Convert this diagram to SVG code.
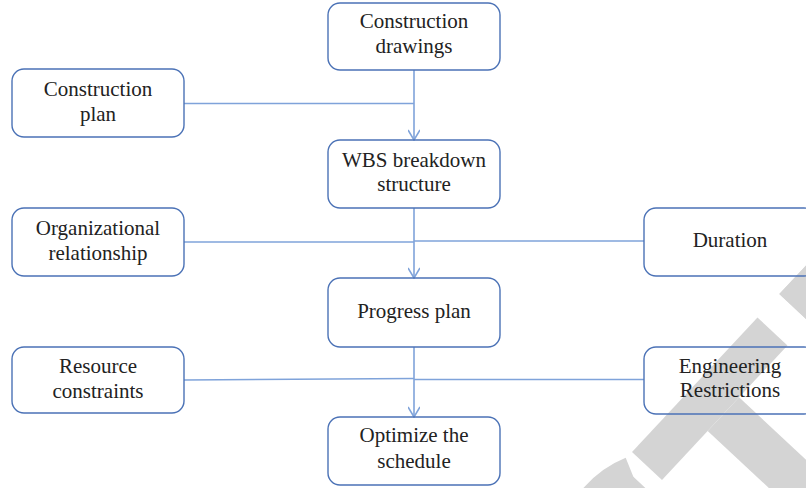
<svg xmlns="http://www.w3.org/2000/svg" width="806" height="488" viewBox="0 0 806 488">
  <style>
    .box { fill: none; stroke: #4b72b6; stroke-width: 1.4; }
    .lbl { font-family: "Liberation Serif", "Times New Roman", serif; font-size: 21px; fill: #222; text-anchor: middle; }
    .link { fill: none; stroke: #7fa3da; stroke-width: 1.6; }
    .wm { fill: #d4d4d4; }
  </style>
  <defs>
    <marker id="arrow" viewBox="0 0 12 12" refX="11" refY="6" markerWidth="12" markerHeight="12" markerUnits="userSpaceOnUse" orient="auto">
      <path d="M1,0 L11,6 L1,12" fill="none" stroke="#7fa3da" stroke-width="1.6"/>
    </marker>
  </defs>

  <rect width="806" height="488" fill="#ffffff"/>

  <!-- grey diagonal watermark bands in the lower right corner -->
  <g id="watermark" transform="translate(632 452) rotate(-47)">
    <path class="wm" d="M -17.2 17.9 A 89.5 89.5 0 1 0 -17.2 180.1" fill="none" stroke="#d4d4d4" stroke-width="41"/>
    <rect class="wm" x="0" y="0" width="184" height="41"/>
    <rect class="wm" x="67" y="41" width="46" height="220"/>
    <rect class="wm" x="216" y="0" width="46" height="220"/>
    <rect class="wm" x="216" y="0" width="150" height="41"/>
  </g>

  <g id="connectors">
    <line class="link" x1="414" y1="70" x2="414" y2="140" marker-end="url(#arrow)"/>
    <line class="link" x1="184" y1="103.5" x2="414" y2="103.5"/>
    <line class="link" x1="414" y1="208" x2="414" y2="278" marker-end="url(#arrow)"/>
    <line class="link" x1="184" y1="242" x2="414" y2="242"/>
    <line class="link" x1="414" y1="241" x2="644" y2="241"/>
    <line class="link" x1="414" y1="347" x2="414" y2="417" marker-end="url(#arrow)"/>
    <line class="link" x1="184" y1="380" x2="414" y2="378.5"/>
    <line class="link" x1="414" y1="379.5" x2="644" y2="379.5"/>
  </g>

  <g id="construction-drawings">
    <rect class="box" x="328" y="3" width="172" height="67" rx="12"/>
    <text class="lbl" x="414" y="28">Construction</text>
    <text class="lbl" x="414" y="53">drawings</text>
  </g>

  <g id="construction-plan">
    <rect class="box" x="12" y="69" width="172" height="68" rx="12"/>
    <text class="lbl" x="98" y="96">Construction</text>
    <text class="lbl" x="98" y="121">plan</text>
  </g>

  <g id="wbs-structure">
    <rect class="box" x="328" y="140" width="172" height="68" rx="12"/>
    <text class="lbl" x="414" y="167">WBS breakdown</text>
    <text class="lbl" x="414" y="191">structure</text>
  </g>

  <g id="organizational-relationship">
    <rect class="box" x="12" y="208" width="172" height="68" rx="12"/>
    <text class="lbl" x="98" y="235">Organizational</text>
    <text class="lbl" x="98" y="260">relationship</text>
  </g>

  <g id="duration">
    <rect class="box" x="644" y="208" width="172" height="68" rx="12"/>
    <text class="lbl" x="730" y="247">Duration</text>
  </g>

  <g id="progress-plan">
    <rect class="box" x="328" y="278" width="172" height="69" rx="12"/>
    <text class="lbl" x="414" y="318">Progress plan</text>
  </g>

  <g id="resource-constraints">
    <rect class="box" x="12" y="347" width="172" height="66" rx="12"/>
    <text class="lbl" x="98" y="373">Resource</text>
    <text class="lbl" x="98" y="398">constraints</text>
  </g>

  <g id="engineering-restrictions">
    <rect class="box" x="644" y="347" width="172" height="67" rx="12"/>
    <text class="lbl" x="730" y="373">Engineering</text>
    <text class="lbl" x="730" y="397">Restrictions</text>
  </g>

  <g id="optimize-schedule">
    <rect class="box" x="328" y="417" width="172" height="68" rx="12"/>
    <text class="lbl" x="414" y="442">Optimize the</text>
    <text class="lbl" x="414" y="468">schedule</text>
  </g>
</svg>
